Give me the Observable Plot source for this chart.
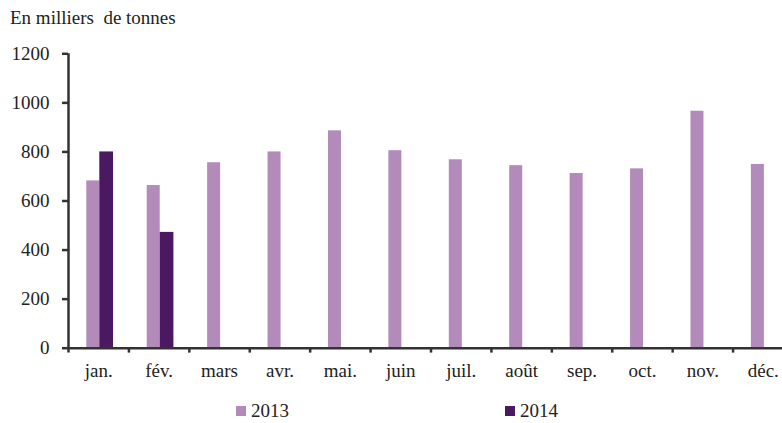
<!DOCTYPE html>
<html>
<head>
<meta charset="utf-8">
<script src="https://cdn.jsdelivr.net/npm/d3@7"></script>
<script src="https://cdn.jsdelivr.net/npm/@observablehq/plot@0.6"></script>
<style>
  html, body { margin: 0; padding: 0; background: #fff; overflow: hidden; width: 782px; height: 423px; }
  body { position: relative; font-family: 'Liberation Serif', 'DejaVu Serif', serif; color: #222; }
  #title { position: absolute; left: 10px; top: 7px; font-size: 19px; white-space: pre; }
  #chart { position: absolute; left: 0; top: 40px; line-height: 0; }
  .legend-item { position: absolute; top: 400px; font-size: 19px; display: flex; align-items: center; gap: 5px; }
  .legend-item span.sw { width: 10px; height: 10px; display: inline-block; }
  #chart svg text { font-family: 'Liberation Serif', 'DejaVu Serif', serif; }
</style>
</head>
<body>
<div id="title">En milliers  de tonnes</div>
<div id="chart"></div>
<div class="legend-item" style="left:236px"><span class="sw" style="background:#b38bbb"></span>2013</div>
<div class="legend-item" style="left:505px"><span class="sw" style="background:#4b1862"></span>2014</div>
<script>
const months = ["jan.", "fév.", "mars", "avr.", "mai.", "juin", "juil.", "août", "sep.", "oct.", "nov.", "déc."];
const values2013 = [682, 663, 756, 800, 886, 805, 768, 744, 712, 731, 966, 749];
const values2014 = [800, 472];
const yTicks = [0, 200, 400, 600, 800, 1000, 1200];

const color2013 = "#b38bbb";
const color2014 = "#4b1862";
const axisColor = "#333";

// plot runs past the right edge of the window, like the original
const width = 794, marginLeft = 68, marginRight = 1;
const bw = (width - marginLeft - marginRight) / months.length;

const data2013 = months.map((m, i) => ({month: m, value: values2013[i]}));
const data2014 = values2014.map((v, i) => ({month: months[i], value: v}));

const chart = Plot.plot({
  width,
  height: 355,
  marginLeft,
  marginRight,
  marginTop: 13.3,
  marginBottom: 47.3,
  style: {fontFamily: "'Liberation Serif', 'DejaVu Serif', serif", fontSize: "19px", color: "#222", background: "#fff", overflow: "visible", maxWidth: "none"},
  x: {domain: months, padding: 0, round: false, axis: null},
  y: {domain: [0, 1200], axis: null},
  marks: [
    Plot.barY(data2013, {x: "month", y: "value", fill: color2013, insetLeft: 18.3, insetRight: bw - 31.3}),
    Plot.barY(data2014, {x: "month", y: "value", fill: color2014, insetLeft: 31.3, insetRight: bw - 45}),
    Plot.axisY({ticks: yTicks, tickSize: 6, tickPadding: 13, stroke: axisColor, strokeWidth: 2.5, label: null, tickFormat: d => String(d)}),
    Plot.axisX({tickSize: 0, tickPadding: 15, label: null}),
    Plot.ruleY([0], {stroke: axisColor, strokeWidth: 2.5}),
    Plot.ruleX(months, {x: d => d, dx: -bw / 2, y1: -20, y2: (d, i) => i === 0 ? 1200 : 0, stroke: axisColor, strokeWidth: 2.5})
  ]
});

document.getElementById("chart").appendChild(chart);
</script>
</body>
</html>
